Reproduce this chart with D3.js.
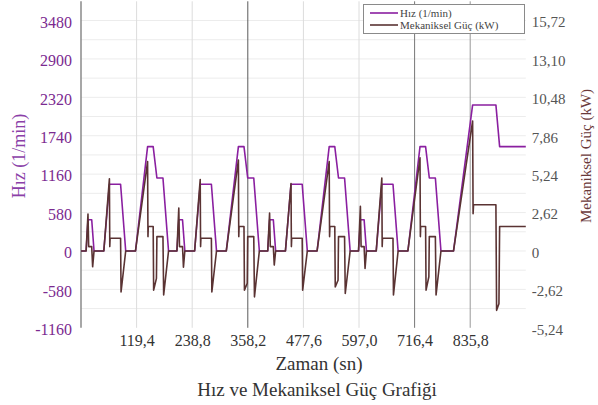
<!DOCTYPE html>
<html>
<head>
<meta charset="utf-8">
<script src="https://cdn.jsdelivr.net/npm/d3@7"></script>
<style>
  body { margin: 0; background: #fff; }
  svg text { font-family: "Liberation Serif", "Times New Roman", serif !important; }
</style>
</head>
<body>
<svg id="chart" width="598" height="405"></svg>
<script>
// Motor speed (1/min) over time (s)
const speedRpm = [
  [0,0],[11,0],[15,472],[23,472],[28,0],[49,0],[61,1008],[85,1008],[96,0],
  [117,0],[143,1575],[155,1575],[163,1102],[176,1102],[188,0],
  [206,0],[210,472],[218,472],[223,0],[244,0],[256,1008],[280,1008],[291,0],
  [312,0],[338,1575],[350,1575],[358,1102],[371,1102],[383,0],
  [401,0],[405,472],[413,472],[418,0],[439,0],[451,1008],[475,1008],[486,0],
  [507,0],[533,1575],[545,1575],[553,1102],[566,1102],[578,0],
  [596,0],[600,472],[608,472],[613,0],[634,0],[646,1008],[670,1008],[681,0],
  [702,0],[728,1575],[740,1575],[748,1102],[761,1102],[773,0],
  [800,0],[841,2205],[891,2205],[899,1575],[955.2,1575]
];

// Mechanical power (kW) over time (s)
const powerKw = [
  [0,0],[11,0],[15,2.52],[16.5,0.3],[23,0.3],[25,-1.08],[28,0],
  [49,0],[61,4.92],[61.8,0.3],[62.5,0.87],[85,0.87],[86,-2.8],[96,0],
  [117,0],[143,6.1],[143.8,0.98],[144.5,1.67],[155,1.67],[156,-2.67],[162,-1.87],[163,0.98],[176,0.98],[177.5,-3.0],[188,0],
  [206,0],[210,2.93],[211.5,0.3],[218,0.3],[220,-1.1],[223,0],
  [244,0],[256,4.87],[256.8,0.3],[257.5,0.87],[280,0.87],[281,-2.8],[291,0],
  [312,0],[338,6.2],[338.8,0.98],[339.5,1.67],[350,1.67],[351,-2.67],[357,-2.2],[358,0.98],[371,0.98],[372.5,-3.13],[383,0],
  [401,0],[405,2.58],[406.5,0.3],[413,0.3],[415,-0.96],[418,0],
  [439,0],[451,4.6],[451.8,0.3],[452.5,0.87],[475,0.87],[476,-2.67],[486,0],
  [507,0],[533,6.1],[533.8,0.98],[534.5,1.67],[545,1.67],[546,-2.45],[552,-2.0],[553,0.98],[566,0.98],[567.5,-2.9],[578,0],
  [596,0],[600,3.04],[601.5,0.3],[608,0.3],[610,-1.19],[613,0],
  [634,0],[646,4.98],[646.8,0.3],[647.5,0.87],[670,0.87],[671,-3.0],[681,0],
  [702,0],[728,6.36],[728.8,0.98],[729.5,1.67],[740,1.67],[741,-2.67],[747,-1.76],[748,0.98],[761,0.98],[762.5,-3.0],[773,0],
  [800,0],[841,8.87],[842,2.54],[843,3.15],[891,3.15],[892.5,-4.05],[897.5,-3.6],[899,1.67],[955.2,1.67]
];

const speedTicks = [-1160, -580, 0, 580, 1160, 1740, 2320, 2900, 3480];
const powerTicks = [-5.24, -2.62, 0, 2.62, 5.24, 7.86, 10.48, 13.10, 15.72];
const timeTicks = [119.4, 238.8, 358.2, 477.6, 597.0, 716.4, 835.8];
const timeMax = 955.2;

const seriesNames = ["Hız (1/min)", "Mekaniksel Güç (kW)"];
const titleText = "Hız ve Mekaniksel Güç Grafiği";
const xTitle = "Zaman (sn)";

const speedColor = "#8a1fa0";
const powerColor = "#5a3333";
const serif = '"Liberation Serif", "Times New Roman", serif';

const svg = d3.select("#chart");
const plot = { left: 81, right: 525.8, top: 1.3, bottom: 327.8 };

const x = d3.scaleLinear().domain([0, timeMax]).range([plot.left, plot.right]);
const ySpeed = d3.scaleLinear().domain([-1160, 3770]).range([plot.bottom, plot.top]);
const ratio = 15.72 / 3480;
const yPower = d3.scaleLinear().domain([-1160 * ratio, 3770 * ratio]).range([plot.bottom, plot.top]);

const commaFmt = (f) => (v) => (Math.abs(v) < 1e-9 ? "0" : d3.format(f)(v).replace(".", ",").replace("−", "-"));

// horizontal grid
svg.append("g")
  .selectAll("line")
  .data(d3.range(-870, 3481, 290))
  .join("line")
  .attr("x1", plot.left).attr("x2", plot.right)
  .attr("y1", d => ySpeed(d)).attr("y2", d => ySpeed(d))
  .attr("stroke", "#ececec").attr("stroke-width", 1);

// vertical grid at time ticks
const vShade = { 358.2: "#5a5a5a", 716.4: "#777", 835.8: "#999" };
svg.append("g")
  .selectAll("line")
  .data(timeTicks)
  .join("line")
  .attr("x1", d => x(d)).attr("x2", d => x(d))
  .attr("y1", plot.top).attr("y2", plot.bottom)
  .attr("stroke", d => vShade[d] || "#dcdcdc").attr("stroke-width", 1);

// left axis line
svg.append("line")
  .attr("x1", plot.left).attr("x2", plot.left)
  .attr("y1", plot.top).attr("y2", plot.bottom)
  .attr("stroke", "#8a8a8a").attr("stroke-width", 1.5);

// left axis labels
const leftAxis = svg.append("g")
  .attr("transform", `translate(${plot.left - 9},0)`)
  .call(d3.axisLeft(ySpeed).tickValues(speedTicks).tickSize(0).tickPadding(0).tickFormat(d => String(d)));
leftAxis.attr("font-family", null);
leftAxis.select(".domain").remove();
leftAxis.selectAll("text")
  .attr("fill", "#7b2a90").attr("font-size", 16)
  .style("font-family", serif).attr("dy", "0.42em");

// right axis labels
const rightAxis = svg.append("g")
  .attr("transform", `translate(${plot.right + 6},0)`)
  .call(d3.axisRight(yPower).tickValues(powerTicks).tickSize(0).tickPadding(0).tickFormat(commaFmt(".2f")));
rightAxis.attr("font-family", null);
rightAxis.select(".domain").remove();
rightAxis.selectAll("text")
  .attr("fill", "#555").attr("font-size", 15)
  .style("font-family", serif).attr("dy", "0.42em");

// bottom axis labels
const bottomAxis = svg.append("g")
  .attr("transform", `translate(0,${plot.bottom})`)
  .call(d3.axisBottom(x).tickValues(timeTicks).tickSize(0).tickPadding(0).tickFormat(commaFmt(".1f")));
bottomAxis.attr("font-family", null);
bottomAxis.select(".domain").remove();
bottomAxis.selectAll("text")
  .attr("fill", "#333").attr("font-size", 16)
  .style("font-family", serif).attr("dy", "1.15em");

// axis titles
svg.append("text")
  .attr("transform", `translate(25,156) rotate(-90)`)
  .attr("text-anchor", "middle")
  .attr("fill", "#8b3fa8").attr("font-size", 18)
  .style("font-family", serif)
  .text(seriesNames[0]);

svg.append("text")
  .attr("transform", `translate(591,156) rotate(-90)`)
  .attr("text-anchor", "middle")
  .attr("fill", "#6b3a3a").attr("font-size", 15)
  .style("font-family", serif)
  .text(seriesNames[1]);

svg.append("text")
  .attr("x", 319).attr("y", 370)
  .attr("text-anchor", "middle")
  .attr("fill", "#333").attr("font-size", 19)
  .style("font-family", serif)
  .text(xTitle);

svg.append("text")
  .attr("x", 317).attr("y", 396)
  .attr("text-anchor", "middle")
  .attr("fill", "#333").attr("font-size", 19)
  .style("font-family", serif)
  .text(titleText);

// series
svg.append("clipPath").attr("id", "plotClip")
  .append("rect")
  .attr("x", plot.left).attr("y", plot.top)
  .attr("width", plot.right - plot.left + 1).attr("height", plot.bottom - plot.top);

const speedLine = d3.line().x(d => x(d[0])).y(d => ySpeed(d[1]));
const powerLine = d3.line().x(d => x(d[0])).y(d => yPower(d[1]));

const lines = svg.append("g").attr("clip-path", "url(#plotClip)");
lines.append("path")
  .datum(speedRpm)
  .attr("d", speedLine)
  .attr("fill", "none").attr("stroke", speedColor).attr("stroke-width", 1.6)
  .attr("stroke-linejoin", "round");
lines.append("path")
  .datum(powerKw)
  .attr("d", powerLine)
  .attr("fill", "none").attr("stroke", powerColor).attr("stroke-width", 1.6)
  .attr("stroke-linejoin", "round");

// legend
const legend = svg.append("g");
legend.append("rect")
  .attr("x", 363.5).attr("y", 4.5).attr("width", 161).attr("height", 29)
  .attr("fill", "#fff").attr("stroke", "#8a8a8a").attr("stroke-width", 1);
const legendItems = [
  { name: seriesNames[0], color: speedColor, y: 13 },
  { name: seriesNames[1], color: powerColor, y: 25 }
];
legendItems.forEach(it => {
  legend.append("line")
    .attr("x1", 370).attr("x2", 398).attr("y1", it.y).attr("y2", it.y)
    .attr("stroke", it.color).attr("stroke-width", 1.6);
  legend.append("text")
    .attr("x", 400).attr("y", it.y + 3.5)
    .attr("fill", "#444").attr("font-size", 11)
    .style("font-family", serif)
    .text(it.name);
});
</script>
</body>
</html>
